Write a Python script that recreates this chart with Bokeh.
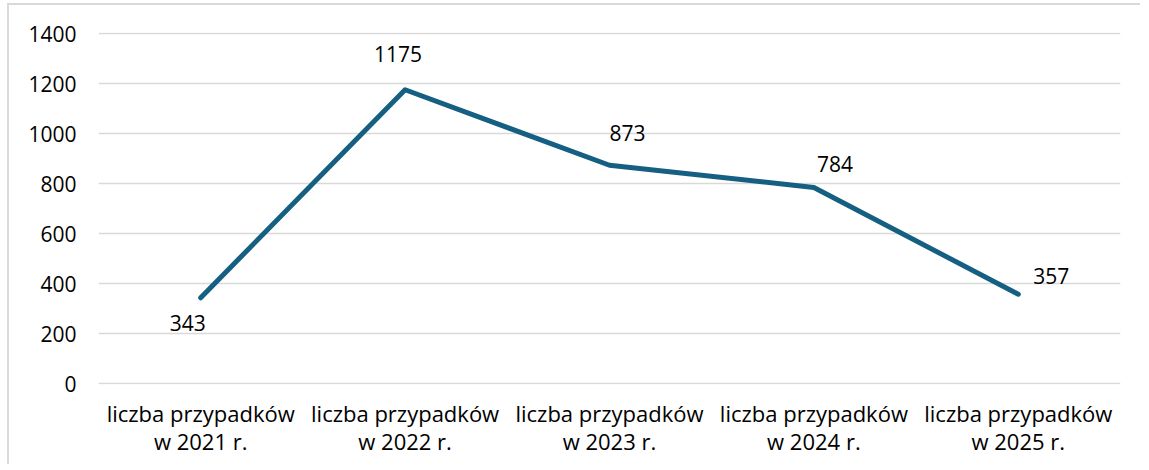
from bokeh.plotting import figure
from bokeh.models import ColumnDataSource, LabelSet, Range1d, FactorRange, SingleIntervalTicker
from bokeh.core.properties import value
from bokeh.embed import file_html
from bokeh.resources import INLINE

categories = ["liczba przypadków\nw 2021 r.", "liczba przypadków\nw 2022 r.",
              "liczba przypadków\nw 2023 r.", "liczba przypadków\nw 2024 r.",
              "liczba przypadków\nw 2025 r."]
values = [343, 1175, 873, 784, 357]

# label placement (style only)
label_dx = [-13, -7, 18, 21, 33]
label_dy = [-25, 36, 32, 24, 18]

FONT = "Open Sans"
LINE_COLOR = "#156082"

src = ColumnDataSource(dict(x=categories, y=values, t=[str(v) for v in values],
                            dx=label_dx, dy=label_dy))

p = figure(frame_width=1022, frame_height=352, x_range=FactorRange(*categories),
           y_range=Range1d(-4, 1404), output_backend="svg", toolbar_location=None,
           min_border_left=89, min_border_right=20, min_border_top=27, min_border_bottom=80)

p.line("x", "y", source=src, line_color=LINE_COLOR, line_width=5, line_cap="round", line_join="round")

labels = LabelSet(x="x", y="y", text="t", source=src, x_offset="dx", y_offset="dy",
                  text_align="center", text_baseline="middle", text_font=value(FONT),
                  text_font_size=value("21px"), text_color="#000000")
p.add_layout(labels)

p.outline_line_color = None
p.xgrid.grid_line_color = None
p.ygrid.grid_line_color = "#D9D9D9"
p.ygrid.grid_line_width = 1.5
p.yaxis.ticker = SingleIntervalTicker(interval=200)

for ax in (p.xaxis[0], p.yaxis[0]):
    ax.axis_line_color = None
    ax.major_tick_line_color = None
    ax.minor_tick_line_color = None
    ax.major_tick_out = 0
    ax.major_tick_in = 0
    ax.minor_tick_out = 0
    ax.major_label_text_font = FONT
    ax.major_label_text_color = "#000000"

p.yaxis.major_label_text_font_size = "21px"
p.xaxis.major_label_text_font_size = "22px"
p.xaxis.major_label_text_line_height = 0.95
p.yaxis.major_label_standoff = 22
p.xaxis.major_label_standoff = 13
p.x_range.range_padding = 0
p.styles = {"margin-left": "7px", "margin-top": "3px",
            "border-left": "2px solid #D9D9D9", "border-top": "2px solid #D9D9D9"}

open("out.html", "w").write(file_html(p, INLINE))
